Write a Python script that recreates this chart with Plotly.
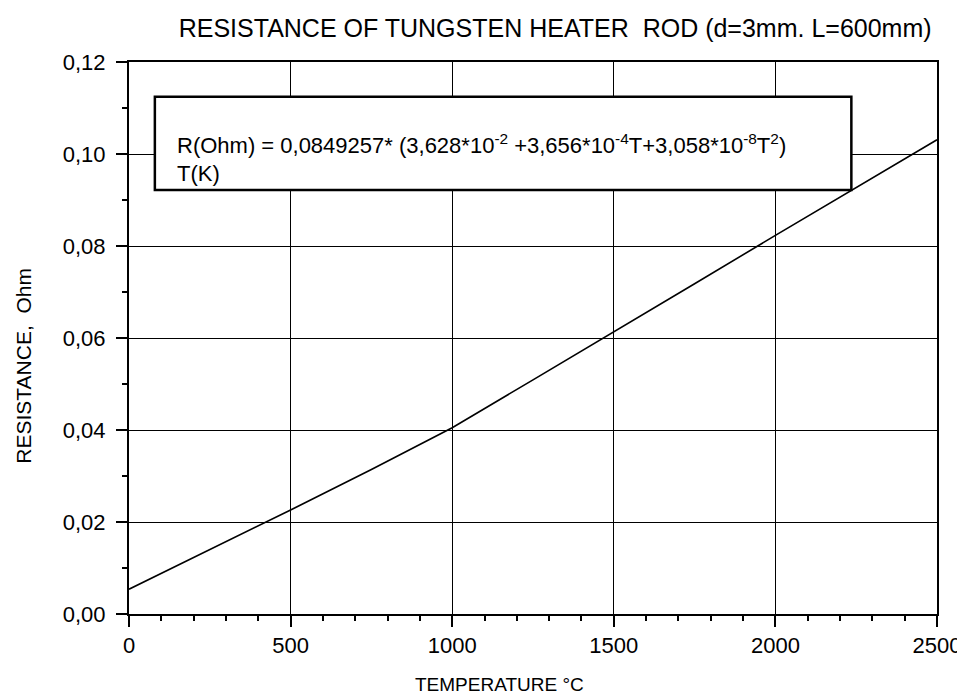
import plotly.graph_objects as go

# data
temp_c = [0, 250, 500, 750, 1000, 1250, 1500, 1750, 2000, 2250, 2500]
resistance = [0.0054, 0.0140, 0.0226, 0.0314, 0.0405, 0.0509, 0.0613, 0.0718, 0.0823, 0.0927, 0.1031]

title_text = "RESISTANCE OF TUNGSTEN HEATER&nbsp; ROD (d=3mm. L=600mm)"
formula_line1 = ("R(Ohm) = 0,0849257* (3,628*10<sup>-2</sup> +3,656*10<sup>-4</sup>T"
                 "+3,058*10<sup>-8</sup>T<sup>2</sup>)")
formula_line2 = "T(K)"

font_family = "Liberation Sans, Arial, sans-serif"

fig = go.Figure()
fig.add_trace(go.Scatter(x=temp_c, y=resistance, mode="lines",
                         line=dict(color="black", width=1.6), showlegend=False))

axis_common = dict(
    showline=True, linecolor="black", linewidth=2, mirror=True,
    showgrid=True, gridcolor="black", gridwidth=1,
    ticks="outside", ticklen=11, tickwidth=1.5, tickcolor="black",
    zeroline=False,
    tickfont=dict(family=font_family, size=22, color="black"),
)

fig.update_xaxes(range=[0, 2500], dtick=500, tick0=0,
                 minor=dict(dtick=100, ticks="outside", ticklen=5, tickcolor="black", showgrid=False),
                 ticklabelstandoff=0,
                 **axis_common)
fig.update_yaxes(range=[0, 0.12], dtick=0.02, tick0=0, tickformat=".2f",
                 minor=dict(dtick=0.01, ticks="outside", ticklen=5, tickcolor="black", showgrid=False),
                 ticklabelstandoff=6,
                 **axis_common)

# formula box
fig.add_shape(type="rect", xref="paper", yref="paper",
              x0=0.032, x1=0.894, y0=0.768, y1=0.937,
              line=dict(color="black", width=2.5), fillcolor="white", layer="above")
fig.add_annotation(xref="paper", yref="paper", x=0.058, y=0.852,
                   xanchor="left", yanchor="middle", align="left",
                   text=formula_line1, showarrow=False, borderpad=0,
                   font=dict(family=font_family, size=22, color="black"))
fig.add_annotation(xref="paper", yref="paper", x=0.058, y=0.798,
                   xanchor="left", yanchor="middle", align="left",
                   text=formula_line2, showarrow=False, borderpad=0,
                   font=dict(family=font_family, size=22, color="black"))

# axis titles
fig.add_annotation(xref="paper", yref="paper", x=-0.131, y=0.45,
                   xanchor="center", yanchor="middle", textangle=-90,
                   text="RESISTANCE,&nbsp; Ohm", showarrow=False,
                   font=dict(family=font_family, size=21, color="black"))
fig.add_annotation(xref="paper", yref="paper", x=0.458, y=-0.128,
                   xanchor="center", yanchor="middle",
                   text="TEMPERATURE °C", showarrow=False, borderpad=0,
                   font=dict(family=font_family, size=19, color="black"))

fig.update_layout(
    width=965, height=696,
    margin=dict(l=121, r=32, t=54, b=90),
    plot_bgcolor="white", paper_bgcolor="white",
    separators=",.",
    title=dict(text=title_text, x=0.567, xanchor="center", y=0.971, yanchor="middle",
               font=dict(family=font_family, size=25, color="black")),
)

fig.write_html("out.html")
